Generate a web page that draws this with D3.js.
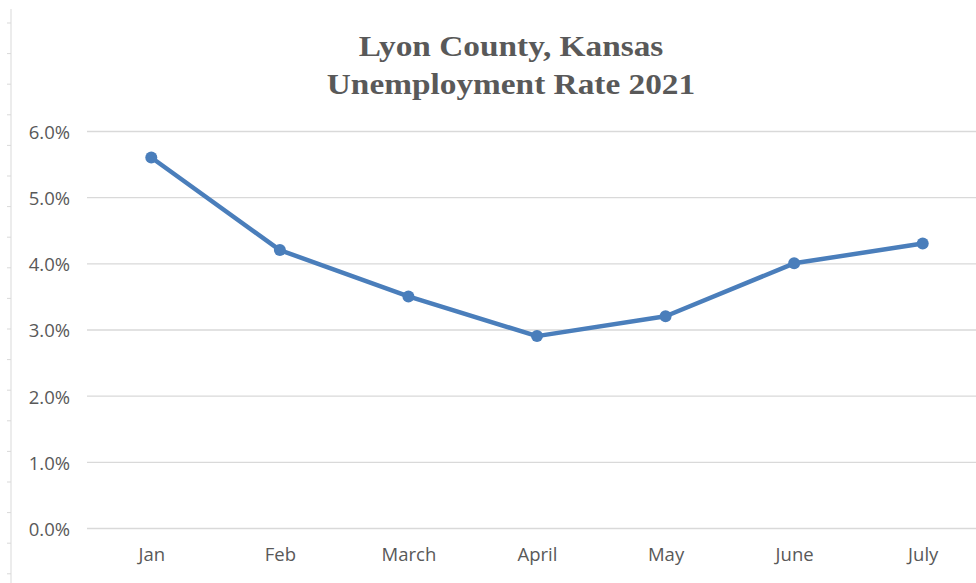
<!DOCTYPE html>
<html>
<head>
<meta charset="utf-8">
<script src="https://cdn.jsdelivr.net/npm/d3@7"></script>
<style>
    body { margin: 0; background: #fff; }
    svg { display: block; }
</style>
</head>
<body>
<div id="chart"></div>
<script>
// Data
const months = ["Jan", "Feb", "March", "April", "May", "June", "July"];
const rates = [5.6, 4.2, 3.5, 2.9, 3.2, 4.0, 4.3];
const yTicks = [0, 1, 2, 3, 4, 5, 6];
const titleLines = ["Lyon County, Kansas", "Unemployment Rate 2021"];

const width = 976;
const height = 583;
const grey = "#595959";

const svg = d3.select("#chart").append("svg")
    .attr("width", width)
    .attr("height", height);

// ruler-like edge on the left
const ruler = svg.append("g").attr("class", "ruler");
ruler.append("line")
    .attr("x1", 11).attr("x2", 11)
    .attr("y1", 9).attr("y2", height)
    .attr("stroke", "#d9d9d9")
    .attr("stroke-width", 1);
ruler.selectAll("line.tick")
    .data(d3.range(23, height, 30.6))
    .join("line")
    .attr("class", "tick")
    .attr("x1", 7).attr("x2", 11)
    .attr("y1", d => d).attr("y2", d => d)
    .attr("stroke", "#d9d9d9")
    .attr("stroke-width", 1);

const x = d3.scalePoint()
    .domain(months)
    .range([87, 987])
    .padding(0.5);

const y = d3.scaleLinear()
    .domain([0, 6])
    .range([528, 131]);

// Gridlines
svg.append("g")
    .attr("class", "grid")
    .selectAll("line")
    .data(yTicks)
    .join("line")
    .attr("x1", 87)
    .attr("x2", 987)
    .attr("y1", d => y(d) + 0.5)
    .attr("y2", d => y(d) + 0.5)
    .attr("stroke", "#d9d9d9")
    .attr("stroke-width", 1.3);

// Y axis labels
const yAxis = svg.append("g")
    .attr("transform", "translate(70,1.5)")
    .call(d3.axisLeft(y).tickValues(yTicks).tickSize(0).tickPadding(0)
        .tickFormat(d => d.toFixed(1) + "%"));
yAxis.select(".domain").remove();
yAxis.selectAll("text")
    .attr("fill", grey)
    .style("font-size", "18.5px")
    .style("font-family", "'Open Sans', sans-serif");

// X axis labels
const xAxis = svg.append("g")
    .attr("transform", "translate(0,548)")
    .call(d3.axisBottom(x).tickSize(0).tickPadding(0));
xAxis.select(".domain").remove();
xAxis.selectAll("text")
    .attr("fill", grey)
    .style("font-size", "18.5px")
    .style("font-family", "'Open Sans', sans-serif");

// Line
const line = d3.line()
    .x((d, i) => x(months[i]))
    .y(d => y(d));

svg.append("path")
    .datum(rates)
    .attr("d", line)
    .attr("fill", "none")
    .attr("stroke", "#4a7ebb")
    .attr("stroke-width", 4.5)
    .attr("stroke-linejoin", "round")
    .attr("stroke-linecap", "round");

svg.append("g")
    .selectAll("circle")
    .data(rates)
    .join("circle")
    .attr("cx", (d, i) => x(months[i]))
    .attr("cy", d => y(d))
    .attr("r", 6)
    .attr("fill", "#4a7ebb");

// Title
svg.append("g")
    .selectAll("text")
    .data(titleLines)
    .join("text")
    .attr("transform", (d, i) => `translate(511,${56 + i * 37.5}) scale(1.13,1)`)
    .attr("text-anchor", "middle")
    .attr("fill", grey)
    .style("font-family", "'Liberation Serif', 'Times New Roman', serif")
    .style("font-weight", "bold")
    .style("font-size", "29.5px")
    .text(d => d);
</script>
</body>
</html>
